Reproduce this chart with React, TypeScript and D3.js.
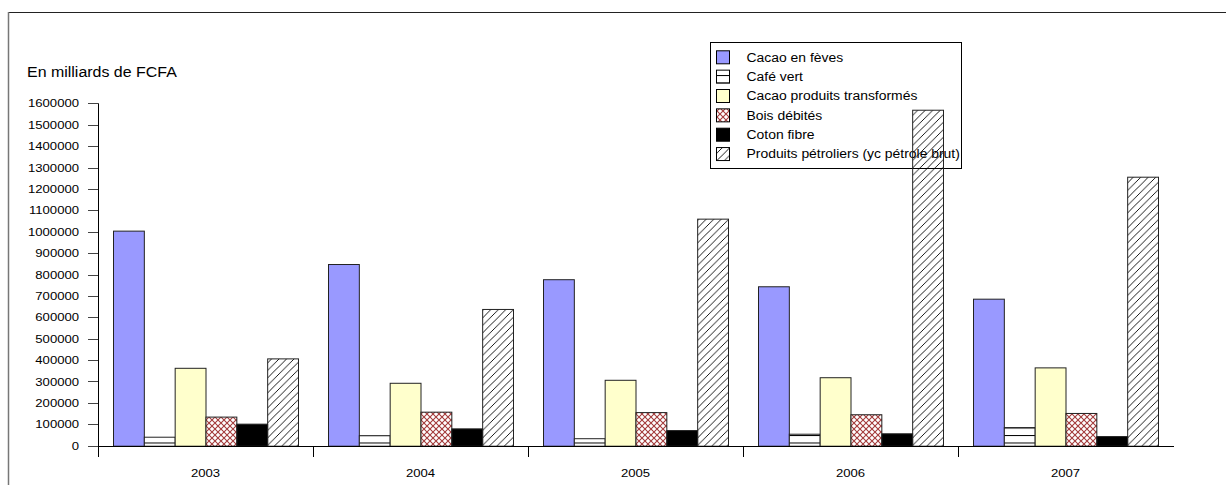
import * as d3 from 'd3'

const years = ['2003', '2004', '2005', '2006', '2007']
const series = [
  'Cacao en fèves',
  'Café vert',
  'Cacao produits transformés',
  'Bois débités',
  'Coton fibre',
  'Produits pétroliers (yc pétrole brut)',
]
const cacaoFeves = [1005000, 849000, 778000, 745000, 687000]
const cafeVert = [42000, 49000, 35000, 56000, 87000]
const cacaoTransformes = [364000, 294000, 308000, 320000, 366000]
const boisDebites = [136000, 159000, 157000, 147000, 153000]
const cotonFibre = [103000, 81000, 73000, 58000, 45000]
const produitsPetroliers = [408000, 639000, 1061000, 1570000, 1257000]
const yTicks = d3.range(0, 1600001, 100000)

const values = [cacaoFeves, cafeVert, cacaoTransformes, boisDebites, cotonFibre, produitsPetroliers]
const fills = ['#9999ff', 'url(#cafe)', '#ffffcc', 'url(#bois)', '#000000', 'url(#petrole)']

const W = 1226
const H = 485
const font = "Arial, 'Liberation Sans', sans-serif"

// the reference text is stretched a bit horizontally
const Txt = (p: { x: number; y: number; size: number; sx?: number; anchor?: string; children: string }) => (
  <text
    transform={`translate(${p.x},${p.y}) scale(${p.sx ?? 1.16},1)`}
    fontSize={p.size}
    fontFamily={font}
    textAnchor={p.anchor || 'start'}
    fill="#000"
  >
    {p.children}
  </text>
)

export default function App() {
  const x = d3.scaleBand().domain(years).range([98, 1173])
  const inner = d3.scaleBand().domain(series).range([15, x.bandwidth() - 15])
  const y = d3.scaleLinear().domain([0, 1600000]).range([445.7, 103.3])

  const legendX = 710
  const legendY = 42

  return (
    <svg width={W} height={H} style={{ position: 'absolute', left: 0, top: 0, background: '#fff' }}>
      <defs>
        <pattern id="cafe" patternUnits="userSpaceOnUse" width="8" height="7.5">
          <rect width="8" height="7.5" fill="#fff" />
          <line x1="0" x2="8" y1="0.5" y2="0.5" stroke="#000" strokeWidth="1" />
        </pattern>
        <pattern id="bois" patternUnits="userSpaceOnUse" width="6" height="6">
          <rect width="6" height="6" fill="#fff" />
          <path d="M0,0 L6,6 M0,6 L6,0" stroke="#a33a3a" strokeWidth="1.1" />
        </pattern>
        <pattern id="petrole" patternUnits="userSpaceOnUse" width="7.5" height="7.5">
          <path d="M-1,1 L1,-1 M0,7.5 L7.5,0 M6.5,8.5 L8.5,6.5" stroke="#000" strokeWidth="0.9" />
        </pattern>
      </defs>

      {/* frame */}
      <line x1={8.5} x2={W} y1={12.5} y2={12.5} stroke="#222" />
      <line x1={8.5} x2={8.5} y1={12} y2={H} stroke="#777" strokeWidth={1.5} />

      <Txt x={27} y={77} size={15.5} sx={1.03}>En milliards de FCFA</Txt>

      {/* legend, drawn before the bars: the 2006 bar runs over it */}
      <rect x={legendX + 0.5} y={legendY + 0.5} width={251} height={126} fill="#fff" stroke="#000" />
      {series.map((s, i) => {
        const cy = 57.3 + i * 19.35
        return (
          <g key={s}>
            <rect x={716.5} y={cy - 6.5} width={13} height={13} fill={fills[i]} stroke="#000" />
            <Txt x={746.5} y={cy + 4.2} size={12}>{s}</Txt>
          </g>
        )
      })}

      {/* bars */}
      {years.map((yr, j) => (
        <g key={yr} transform={`translate(${x(yr)},0)`}>
          {series.map((s, i) => (
            <rect
              key={s}
              x={inner(s)! + 0.5}
              y={y(values[i][j]) + 0.5}
              width={inner.bandwidth()}
              height={y(0) - y(values[i][j])}
              fill={fills[i]}
              stroke="#222"
              strokeWidth={1}
            />
          ))}
        </g>
      ))}

      {/* y axis */}
      <line x1={98.5} x2={98.5} y1={y(1600000)} y2={457} stroke="#000" />
      {yTicks.map(t => (
        <g key={t}>
          <line x1={88} x2={98} y1={Math.round(y(t)) + 0.5} y2={Math.round(y(t)) + 0.5} stroke="#444" />
          <Txt x={79} y={y(t) + 4} size={11.3} anchor="end">{String(t)}</Txt>
        </g>
      ))}

      {/* x axis */}
      <line x1={98} x2={1174} y1={446.5} y2={446.5} stroke="#000" />
      {years.map(yr => (
        <g key={yr}>
          <line x1={x(yr)! + 0.5} x2={x(yr)! + 0.5} y1={446} y2={457} stroke="#000" />
          <Txt x={x(yr)! + x.bandwidth() / 2} y={477} size={11.3} anchor="middle">{yr}</Txt>
        </g>
      ))}
    </svg>
  )
}
